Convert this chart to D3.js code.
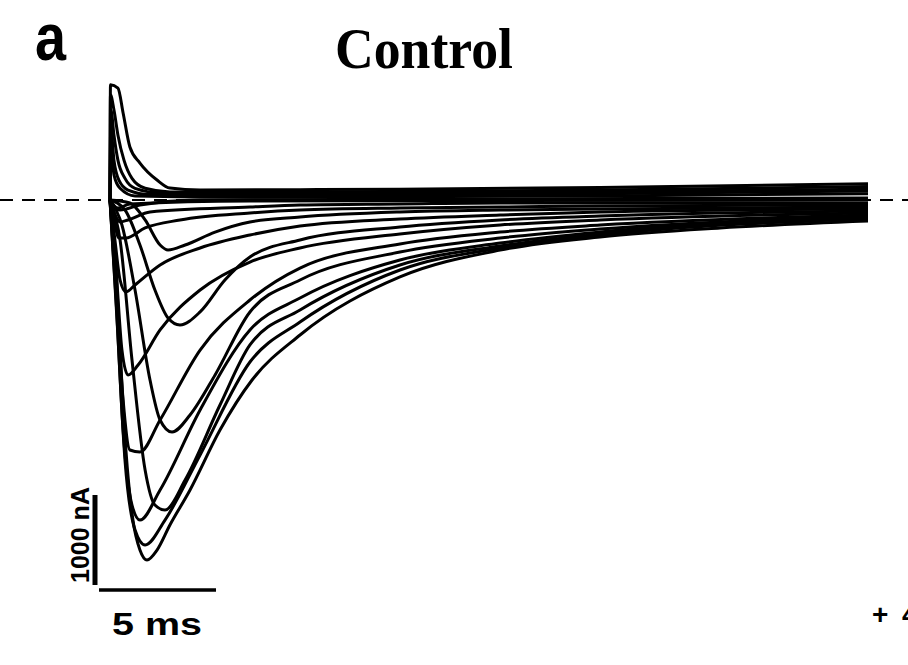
<!DOCTYPE html>
<html>
  <head>
    <meta charset="utf-8" />
    <style>
      body { margin: 0; background: #fff; }
      svg { display: block; }
    </style>
  </head>
  <body>
    <svg id="graph"></svg>

    <!-- Load d3.js -->
    <script src="https://d3js.org/d3.v7.min.js"></script>

    <script>
      // each trace: [time (ms), current (nA)]
      // outward traces (capacitive spike, then near zero)
      const outward1 = [[0, 0], [0.02, 1280], [0.34, 1244], [0.56, 967], [0.85, 589], [1.28, 411], [2.01, 222], [2.56, 133], [3.85, 111], [8.12, 115], [12.39, 120], [20.94, 140], [32.39, 180]];
      const outward2 = [[0, 0], [0.02, 1170], [0.17, 1000], [0.34, 720], [0.6, 440], [0.94, 240], [1.5, 130], [2.56, 90], [8.12, 90], [20.94, 110], [32.39, 150]];
      const outward3 = [[0, 0], [0.04, 1000], [0.17, 720], [0.34, 440], [0.64, 240], [1.07, 130], [2.14, 80], [8.12, 70], [20.94, 90], [32.39, 120]];
      const outward4 = [[0, 0], [0.04, 780], [0.17, 440], [0.38, 220], [0.77, 110], [1.71, 60], [8.12, 50], [20.94, 70], [32.39, 100]];
      const outward5 = [[0, 0], [0.04, 560], [0.17, 280], [0.43, 130], [1.07, 45], [5.98, 30], [20.94, 45], [32.39, 70]];
      const flat1 = [[0, 0], [0.13, -56], [0.43, -111], [1.28, -56], [3.85, 0], [32.39, 22]];
      const flat2 = [[0, 0], [0.34, -89], [0.85, -44], [5.98, -11], [32.39, 0]];

      // inward traces, smallest to largest peak
      const inward1 = [[0, 0], [0.17, -133], [0.43, -244], [0.77, -222], [1.71, -133], [5.98, -78], [8.12, -56], [12.39, -44], [16.67, -33], [32.39, -33]];
      const inward2 = [[0, 0], [0.17, -222], [0.38, -422], [0.68, -422], [1.5, -311], [2.99, -222], [5.98, -144], [8.12, -111], [12.39, -89], [16.67, -78], [20.94, -67], [32.39, -56]];
      const inward3 = [[0, 0], [0.85, -33], [1.5, -222], [2.14, -500], [2.48, -556], [3.21, -500], [4.49, -356], [5.98, -244], [8.12, -189], [12.39, -133], [16.67, -111], [20.94, -100], [32.39, -78]];
      const inward4 = [[0, 0], [0.21, -444], [0.43, -889], [0.68, -1022], [1.07, -944], [2.14, -722], [3.85, -533], [5.98, -389], [8.12, -289], [12.39, -211], [16.67, -167], [20.94, -133], [32.39, -100]];
      const inward5 = [[0, 0], [0.64, -111], [1.28, -500], [1.92, -1000], [2.48, -1311], [2.99, -1389], [3.85, -1244], [4.91, -889], [5.98, -633], [8.12, -444], [12.39, -300], [16.67, -222], [20.94, -178], [32.39, -122]];
      const inward6 = [[0, 0], [0.26, -778], [0.51, -1667], [0.77, -1944], [1.2, -1833], [2.14, -1444], [3.85, -1000], [5.98, -689], [8.12, -533], [12.39, -378], [16.67, -278], [20.94, -222], [32.39, -144]];
      const inward7 = [[0, 0], [0.51, -278], [1.07, -1000], [1.71, -2000], [2.14, -2444], [2.65, -2578], [3.42, -2389], [4.49, -1944], [5.98, -1244], [8.12, -889], [12.39, -578], [16.67, -422], [20.94, -322], [32.39, -178]];
      const inward8 = [[0, 0], [0.26, -1000], [0.56, -2222], [0.85, -2778], [1.28, -2800], [2.14, -2444], [3.85, -1667], [5.98, -1111], [8.12, -756], [12.39, -489], [16.67, -356], [20.94, -278], [32.39, -167]];
      const inward9 = [[0, 0], [0.43, -444], [0.94, -1778], [1.5, -3000], [1.92, -3389], [2.35, -3444], [3.21, -3111], [4.7, -2278], [5.98, -1611], [8.12, -1222], [12.39, -722], [16.67, -511], [20.94, -378], [32.39, -200]];
      const inward10 = [[0, 0], [0.26, -1111], [0.56, -2556], [0.94, -3389], [1.28, -3556], [2.14, -3222], [3.85, -2333], [5.98, -1444], [8.12, -1089], [12.39, -667], [16.67, -478], [20.94, -356], [32.39, -189]];
      const inward11 = [[0, 0], [0.3, -1333], [0.64, -2889], [1.07, -3667], [1.5, -3833], [2.35, -3556], [3.85, -2833], [5.98, -1800], [8.12, -1356], [12.39, -778], [16.67, -533], [20.94, -389], [32.39, -211]];
      const inward12 = [[0, 0], [0.21, -556], [0.43, -1667], [0.68, -2778], [0.98, -3556], [1.28, -3889], [1.58, -4000], [2.01, -3889], [2.56, -3611], [3.42, -3222], [4.7, -2556], [6.07, -2000], [8.12, -1500], [12.39, -855], [16.67, -556], [20.94, -411], [26.07, -311], [32.39, -233]];

      const traces = [
        outward1, outward2, outward3, outward4, outward5, flat1, flat2,
        inward1, inward2, inward3, inward4, inward5, inward6,
        inward7, inward8, inward9, inward10, inward11, inward12,
      ];

      // scale bars
      const scaleTime = 5; // ms
      const scaleCurrent = 1000; // nA

      const width = 908;
      const height = 665;

      const svg = d3
        .select("#graph")
        .attr("width", width)
        .attr("height", height)
        .attr("viewBox", [0, 0, width, height]);

      // time (ms) -> x, current (nA) -> y
      const x = d3.scaleLinear().domain([0, 32.39]).range([110, 868]);
      const y = d3.scaleLinear().domain([0, -4000]).range([200, 560]);

      // dashed zero line across the whole width
      svg
        .append("line")
        .attr("x1", 0)
        .attr("x2", width)
        .attr("y1", y(0))
        .attr("y2", y(0))
        .attr("stroke", "black")
        .attr("stroke-width", 2)
        .attr("stroke-dasharray", "13,9");

      const line = d3
        .line()
        .x((d) => x(d[0]))
        .y((d) => y(d[1]))
        .curve(d3.curveMonotoneX);

      svg
        .append("g")
        .attr("fill", "none")
        .attr("stroke", "black")
        .attr("stroke-width", 3)
        .attr("stroke-linejoin", "round")
        .selectAll()
        .data(traces)
        .join("path")
        .attr("d", line);

      // scale bars, bottom left
      const barX = 95;
      const barBottom = 585;
      svg
        .append("line")
        .attr("x1", barX)
        .attr("x2", barX)
        .attr("y1", barBottom)
        .attr("y2", barBottom - (y(-scaleCurrent) - y(0)))
        .attr("stroke", "black")
        .attr("stroke-width", 5);

      svg
        .append("line")
        .attr("x1", 99)
        .attr("x2", 99 + (x(scaleTime) - x(0)))
        .attr("y1", 590)
        .attr("y2", 590)
        .attr("stroke", "black")
        .attr("stroke-width", 3.5);

      svg
        .append("text")
        .attr("x", 112)
        .attr("y", 635)
        .attr("font-family", "Liberation Sans, Arial, sans-serif")
        .attr("font-weight", "bold")
        .attr("font-size", 31)
        .attr("textLength", 90)
        .attr("lengthAdjust", "spacingAndGlyphs")
        .text(`${scaleTime} ms`);

      svg
        .append("text")
        .attr("transform", "translate(89,535) rotate(-90)")
        .attr("text-anchor", "middle")
        .attr("font-family", "Liberation Sans, Arial, sans-serif")
        .attr("font-weight", "bold")
        .attr("font-size", 25)
        .text(`${scaleCurrent} nA`);

      // panel letter and title
      svg
        .append("text")
        .attr("x", 35)
        .attr("y", 60)
        .attr("font-family", "Liberation Sans, Arial, sans-serif")
        .attr("font-weight", "bold")
        .attr("font-size", 66)
        .attr("textLength", 31)
        .attr("lengthAdjust", "spacingAndGlyphs")
        .text("a");

      svg
        .append("text")
        .attr("x", 335)
        .attr("y", 68)
        .attr("font-family", "Liberation Serif, Times New Roman, serif")
        .attr("font-weight", "bold")
        .attr("font-size", 58)
        .attr("textLength", 178)
        .attr("lengthAdjust", "spacingAndGlyphs")
        .text("Control");

      // cut-off voltage label at the right edge
      svg
        .append("text")
        .attr("x", 872)
        .attr("y", 624)
        .attr("font-family", "Liberation Sans, Arial, sans-serif")
        .attr("font-weight", "bold")
        .attr("font-size", 28)
        .call((t) => t.append("tspan").text("+"))
        .call((t) => t.append("tspan").attr("x", 902).text("40 mV"));
    </script>
  </body>
</html>
